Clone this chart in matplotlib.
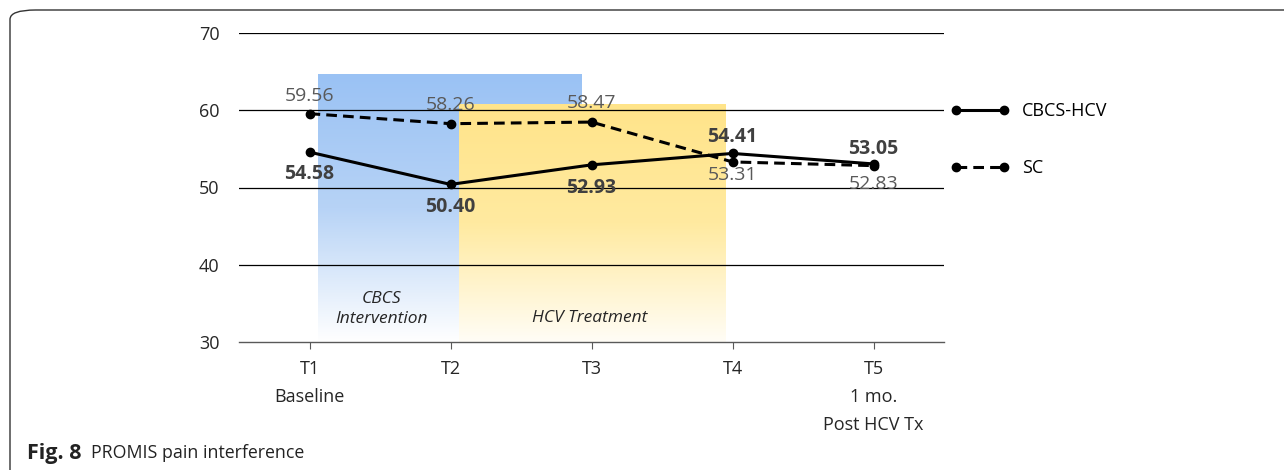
import numpy as np
import matplotlib.pyplot as plt
from matplotlib.colors import LinearSegmentedColormap
from matplotlib.patches import FancyBboxPatch

# data
timepoints = [1, 2, 3, 4, 5]
tick_labels = ['T1\nBaseline', 'T2', 'T3', 'T4', 'T5\n1 mo.\nPost HCV Tx']
cbcs_hcv = [54.58, 50.40, 52.93, 54.41, 53.05]
sc = [59.56, 58.26, 58.47, 53.31, 52.83]
# shaded phases: (x start, x end, top)
cbcs_phase = (1.06, 2.93, 64.6)
hcv_phase = (2.06, 3.95, 60.8)

plt.rcParams['font.family'] = ['Open Sans', 'DejaVu Sans']

fig = plt.figure(figsize=(12.84, 4.70), dpi=100)
ax = fig.add_axes([239 / 1284, 1 - 342 / 470, (944 - 239) / 1284, (342 - 33) / 470])

# outer frame of the figure panel
frame = FancyBboxPatch((10 / 1284, -0.2), 1.2, 1.2 - 10 / 470,
                       boxstyle='round,pad=0,rounding_size=0.02',
                       transform=fig.transFigure, fill=False,
                       edgecolor='#333333', linewidth=1.0)
fig.patches.append(frame)

# gradient phase boxes
grad = np.linspace(0, 1, 256).reshape(-1, 1)
blue_cmap = LinearSegmentedColormap.from_list('b', ['#9ac2f4', '#b7d3f6', '#ffffff'])
yellow_cmap = LinearSegmentedColormap.from_list('y', ['#ffe48a', '#ffeaa0', '#fffdf6'])
x0, x1, top = cbcs_phase
ax.imshow(grad, cmap=blue_cmap, extent=[x0, x1, 30, top], aspect='auto',
          origin='upper', zorder=0)
x0, x1, top = hcv_phase
ax.imshow(grad, cmap=yellow_cmap, extent=[x0, x1, 30, top], aspect='auto',
          origin='upper', zorder=0.5)

ax.text(1.51, 34.3, 'CBCS\nIntervention', ha='center', va='center',
        style='italic', fontsize=12.5, color='#262626', linespacing=1.35, zorder=3)
ax.text(2.99, 33.1, 'HCV Treatment', ha='center', va='center',
        style='italic', fontsize=12.5, color='#262626', zorder=3)

# gridlines
for y in [40, 50, 60, 70]:
    ax.axhline(y, color='black', linewidth=0.9, zorder=1)

ax.plot(timepoints, cbcs_hcv, color='black', linewidth=2.2, marker='o',
        markersize=6, label='CBCS-HCV', zorder=4)
ax.plot(timepoints, sc, color='black', linewidth=2.2, linestyle=(0, (3.5, 2)),
        marker='o', markersize=6, label='SC', zorder=4)

# data labels (offsets in pixels, negative = below)
cb_off = [-22, -23, -23, 16, 15]
sc_off = [18, 19, 19, -13, -18]
for x, y, o in zip(timepoints, cbcs_hcv, cb_off):
    ax.annotate('%.2f' % y, (x, y), xytext=(0, o), textcoords='offset pixels',
                ha='center', va='center', fontsize=14, fontweight='bold',
                color='#404040', zorder=5)
for x, y, o in zip(timepoints, sc, sc_off):
    ax.annotate('%.2f' % y, (x, y), xytext=(0, o), textcoords='offset pixels',
                ha='center', va='center', fontsize=14, color='#595959', zorder=5)

ax.set_xlim(0.5, 5.5)
ax.set_ylim(30, 70)
ax.set_yticks([30, 40, 50, 60, 70])
ax.set_xticks(timepoints)
ax.set_xticklabels(tick_labels, linespacing=1.72)
ax.tick_params(axis='y', length=0, labelsize=13, pad=14, colors='#262626')
ax.tick_params(axis='x', length=5, labelsize=13, pad=8, colors='#262626',
               color='#595959')
for s in ['left', 'right', 'top']:
    ax.spines[s].set_visible(False)
ax.spines['bottom'].set_color('#595959')
ax.spines['bottom'].set_linewidth(1.0)
ax.set_facecolor('none')

fig.legend(loc='upper left', bbox_to_anchor=(951 / 1284, 1 - 102 / 470),
           frameon=False, fontsize=13, handlelength=3.25, numpoints=2,
           labelspacing=2.15, handletextpad=0.7, borderpad=0, borderaxespad=0)

fig.text(27 / 1284, 1 - 453 / 470, 'Fig. 8', fontsize=15.5,
         fontweight='bold', va='center', ha='left', color='#222222')
fig.text(91 / 1284, 1 - 453 / 470, 'PROMIS pain interference', fontsize=12.8,
         va='center', ha='left', color='#222222')

fig.savefig('out.png', dpi=100)
